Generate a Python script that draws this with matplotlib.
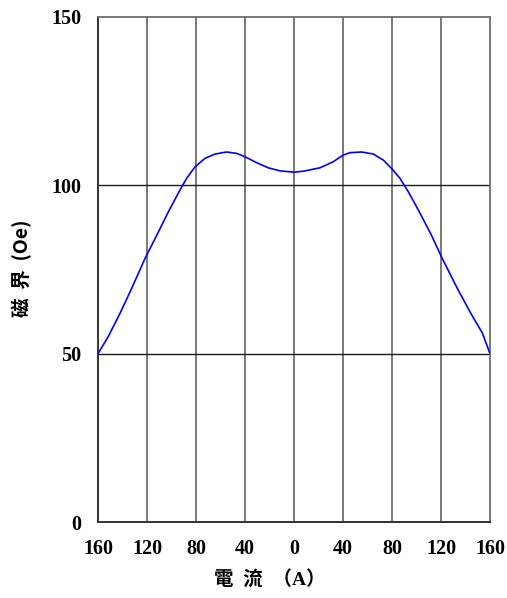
import matplotlib
matplotlib.use("Agg")
import matplotlib.pyplot as plt

# Data
current = [-160, -151.6, -142, -132.5, -121.6, -112, -102.6, -93.1, -87.6, -80.8, -72.7, -64.5, -55,
           -46.8, -40, -30.4, -21, -11.4, 0, 7.6, 21.2, 32, 40.2, 45.7, 55.3, 64.7, 72.9, 79.7,
           86.5, 93.3, 101, 111.5, 121, 133.3, 144.3, 153.8, 160]
field = [50, 55.1, 62, 69.4, 78.3, 85.2, 92.1, 98.6, 102.1, 105.5, 108, 109.3, 109.9,
         109.5, 108.5, 106.7, 105.2, 104.3, 103.9, 104.2, 105.2, 107, 109, 109.7, 109.9, 109.3, 107.5, 105,
         102.1, 98.1, 93.0, 85.7, 78.3, 69.4, 62, 56.1, 50]

xticks = [-160, -120, -80, -40, 0, 40, 80, 120, 160]
xticklabels = ["160", "120", "80", "40", "0", "40", "80", "120", "160"]
yticks = [0, 50, 100, 150]
yticklabels = ["0", "50", "100", "150"]
xlabel = "電  流  （A）"
ylabel = "磁  界  (Oe)"

W, H = 507, 598
fig = plt.figure(figsize=(W / 100, H / 100), dpi=100)
ax = fig.add_axes([98 / W, 1 - 522 / H, (490 - 98) / W, (522 - 17) / H])

ax.set_xlim(-160, 160)
ax.set_ylim(0, 150)

for xv in xticks[1:-1]:
    ax.axvline(xv, color="#6e6e6e", lw=1.3, zorder=1)
for yv in [50, 100]:
    ax.axhline(yv, color="#1a1a1a", lw=1.0, zorder=1)

ax.plot(current, field, color="#0000ff", lw=1.2, zorder=3, solid_capstyle="round", solid_joinstyle="round")

for side in ["left", "bottom"]:
    ax.spines[side].set_color("#333333")
    ax.spines[side].set_linewidth(1.4)
for side in ["top", "right"]:
    ax.spines[side].set_color("#6e6e6e")
    ax.spines[side].set_linewidth(1.3)

ax.set_xticks(xticks)
ax.set_xticklabels(xticklabels)
ax.set_yticks(yticks)
ax.set_yticklabels(yticklabels)
ax.tick_params(length=0, pad=12)
for lab in ax.get_xticklabels() + ax.get_yticklabels():
    lab.set_fontfamily(["Liberation Serif", "DejaVu Serif"])
    lab.set_fontsize(14.5)
    lab.set_fontweight("bold")

fig.text(270 / W, 1 - 580 / H, xlabel, ha="center", va="center", fontsize=14,
         fontweight="bold", family=["Liberation Serif", "Noto Sans CJK TC", "DejaVu Sans"])
fig.text(22 / W, 1 - 268 / H, ylabel, ha="center", va="center", rotation=90, fontsize=14,
         fontweight="bold", family=["Noto Sans CJK TC", "DejaVu Sans"])

fig.savefig("out.png", dpi=100)
